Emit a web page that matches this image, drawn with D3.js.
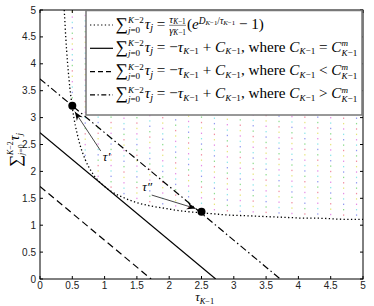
<!DOCTYPE html>
<html>
<head>
<meta charset="utf-8">
<script src="https://cdn.jsdelivr.net/npm/d3@7"></script>
<style>body{margin:0;background:#fff} text{white-space:pre}</style>
</head>
<body>
<svg width="374" height="306"></svg>
<script>
// curve
const curveX = [0.375,0.38,0.4,0.45,0.5,0.6,0.7,0.8,0.9,1.0,1.1,1.3,1.5,1.7,1.9,2.1,2.3,2.5,2.7,2.9,3.1,3.3,3.5,3.7,3.9,4.1,4.3,4.5,4.7,4.9,5.0];
const curveY = [5.0,4.90,4.47,3.70,3.19,2.58,2.22,1.99,1.83,1.72,1.63,1.51,1.42,1.36,1.32,1.28,1.25,1.23,1.21,1.19,1.18,1.17,1.16,1.15,1.14,1.13,1.13,1.12,1.11,1.11,1.11];
// straight lines y = -x + C
const lineC = [2.72, 1.72, 3.72];
const lineDash = ['none', '7,4', '7,3,1.5,3'];
// marked points
const ptX = [0.5, 2.5];
const ptY = [3.22, 1.25];
// arrows and labels
const arrowFrom = [[0.94, 2.38], [1.73, 1.56]];
const arrowTo = [[0.54, 3.11], [2.41, 1.31]];
const arrowLabel = ['τ′', 'τ″'];
const labelAt = [[1.03, 2.2], [1.66, 1.64]];
// feasible region columns
const feasX = [0.5,0.7,0.9,1.1,1.3,1.5,1.7,1.9,2.1,2.3,2.5,2.7,2.9,3.1,3.3,3.5,3.7,3.9,4.1,4.3,4.5,4.7,4.9];
const feasColors = ['#f08ca0','#8cdc8c','#9098f0','#8ce6ea','#e68ce6','#e6e67a'];
const ticks = [0,0.5,1,1.5,2,2.5,3,3.5,4,4.5,5];
const tickLabels = ['0','0.5','1','1.5','2','2.5','3','3.5','4','4.5','5'];

const L = 40, R = 363, T = 10, B = 279;
const svg = d3.select('svg');
const x = d3.scaleLinear().domain([0, 5]).range([L, R]);
const y = d3.scaleLinear().domain([0, 5]).range([B, T]);

svg.append('defs').append('clipPath').attr('id', 'clip')
  .append('rect').attr('x', L).attr('y', T).attr('width', R - L).attr('height', B - T);

svg.select('defs').append('marker')
  .attr('id', 'arr').attr('viewBox', '-10 -5 12 10')
  .attr('markerWidth', 12).attr('markerHeight', 10)
  .attr('markerUnits', 'userSpaceOnUse')
  .attr('refX', 0).attr('refY', 0).attr('orient', 'auto')
  .append('path').attr('d', 'M0,0 L-9,-3.5 L-6,0 L-9,3.5 Z').attr('fill', '#000');

const plot = svg.append('g').attr('clip-path', 'url(#clip)');

// feasible region dots
feasX.forEach((fx, ci) => {
  const lo = curveY[curveX.indexOf(fx)];
  d3.range(lo + 0.08, 5, 0.1).forEach((fy, i) => {
    plot.append('rect')
      .attr('x', x(fx) - 0.6).attr('y', y(fy) - 0.6)
      .attr('width', 1.2).attr('height', 1.4)
      .attr('fill', feasColors[(i + ci * 2) % feasColors.length]);
  });
});

// straight lines
lineC.forEach((c, i) => {
  plot.append('line')
    .attr('x1', x(0)).attr('y1', y(c))
    .attr('x2', x(c)).attr('y2', y(0))
    .attr('stroke', '#000').attr('stroke-width', 1.2)
    .attr('stroke-dasharray', lineDash[i]);
});

// dotted curve
plot.append('path')
  .datum(d3.zip(curveX, curveY))
  .attr('d', d3.line().x(d => x(d[0])).y(d => y(d[1])).curve(d3.curveMonotoneX))
  .attr('fill', 'none').attr('stroke', '#000').attr('stroke-width', 1.3)
  .attr('stroke-dasharray', '1.3,2.4');

// points
plot.selectAll('circle.pt').data(d3.zip(ptX, ptY)).enter()
  .append('circle').attr('class', 'pt')
  .attr('cx', d => x(d[0])).attr('cy', d => y(d[1])).attr('r', 4).attr('fill', '#000');

// axes box + inward ticks
const axes = svg.append('g');
axes.append('rect').attr('x', L).attr('y', T).attr('width', R - L).attr('height', B - T)
  .attr('fill', 'none').attr('stroke', '#000').attr('stroke-width', 1);
ticks.forEach(t => {
  axes.append('line').attr('x1', x(t)).attr('x2', x(t)).attr('y1', B).attr('y2', B - 3).attr('stroke', '#000');
  axes.append('line').attr('x1', x(t)).attr('x2', x(t)).attr('y1', T).attr('y2', T + 3).attr('stroke', '#000');
  axes.append('line').attr('y1', y(t)).attr('y2', y(t)).attr('x1', L).attr('x2', L + 3).attr('stroke', '#000');
  axes.append('line').attr('y1', y(t)).attr('y2', y(t)).attr('x1', R).attr('x2', R - 3).attr('stroke', '#000');
});
const tf = 'Liberation Sans, Arial, sans-serif';
axes.selectAll('text.xt').data(ticks).enter().append('text')
  .attr('x', d => x(d)).attr('y', 288.5).attr('text-anchor', 'middle')
  .attr('font-family', tf).attr('font-size', 10).attr('fill', '#222')
  .text((d, i) => tickLabels[i]);
axes.selectAll('text.yt').data(ticks).enter().append('text')
  .attr('x', 36).attr('y', d => y(d) + 3.5).attr('text-anchor', 'end')
  .attr('font-family', tf).attr('font-size', 10).attr('fill', '#222')
  .text((d, i) => tickLabels[i]);

// arrows
arrowFrom.forEach((a, i) => {
  svg.append('line')
    .attr('x1', x(a[0])).attr('y1', y(a[1]))
    .attr('x2', x(arrowTo[i][0])).attr('y2', y(arrowTo[i][1]))
    .attr('stroke', '#333').attr('stroke-width', 0.9)
    .attr('marker-end', 'url(#arr)');
  svg.append('text')
    .attr('x', x(labelAt[i][0])).attr('y', y(labelAt[i][1]))
    .attr('text-anchor', 'middle')
    .attr('font-family', 'Liberation Serif, serif').attr('font-style', 'italic')
    .attr('font-size', 13).text(arrowLabel[i]);
});

// --- math text helper ---
const SERIF = 'Liberation Serif, DejaVu Serif, serif';
function place(g, runs, fs) {
  let cx = 0;
  runs.forEach(r => {
    if (r.stack || r.frac) {
      const parts = (r.stack || r.frac).map(sub => {
        const sg = g.append('g');
        return { sg, w: place(sg, sub, fs) };
      });
      const W = d3.max(parts, p => p.w);
      parts.forEach(p => {
        const off = r.frac ? (W - p.w) / 2 : 0;
        p.sg.attr('transform', `translate(${cx + off},0)`);
      });
      if (r.frac) {
        g.append('line').attr('x1', cx).attr('x2', cx + W)
          .attr('y1', -3.2).attr('y2', -3.2).attr('stroke', '#000').attr('stroke-width', 0.5);
      }
      cx += W + 1;
    } else {
      const t = g.append('text').attr('x', cx).attr('y', r.dy || 0)
        .attr('font-family', SERIF).attr('font-size', fs * (r.s || 1))
        .attr('font-style', r.it ? 'italic' : 'normal').attr('fill', '#000')
        .text(r.t);
      cx += t.node().getComputedTextLength();
    }
  });
  return cx;
}
const I = (t, s, dy) => ({ t, it: true, s, dy });
const N = (t, s, dy) => ({ t, s, dy });
const SUM = [N('∑', 1.15, 1), { stack: [[I('K', .6, -5.5), N('−2', .6, -5.5)], [I('j', .6, 4), N('=0', .6, 4)]] }];
const TAUJ = [I('τ'), I('j', .68, 2.5)];
const subK = (dy) => [I('K', .6, dy), N('−1', .6, dy)];
const eq = (op) => [...SUM, ...TAUJ, N(' = −'), I('τ'), ...subK(2.5), N(' + '), I('C'), ...subK(2.5),
  N(', where '), I('C'), ...subK(2.5), N(' ' + op + ' '), I('C'),
  { stack: [[I('m', .6, -5.5)], subK(4)] }];
const legendRows = [
  [...SUM, ...TAUJ, N(' = '),
    { frac: [[I('τ', .7, -6), I('K', .48, -4.5), N('−1', .48, -4.5)], [I('γ', .7, 5), I('K', .48, 6.5), N('−1', .48, 6.5)]] },
    N('('), I('e'), I('D', .62, -5), I('K', .45, -3.5), N('−1', .45, -3.5), N('/', .62, -5), I('τ', .62, -5),
    I('K', .45, -3.5), N('−1', .45, -3.5), N(' − 1)')],
  eq('='), eq('<'), eq('>')
];
const legendDash = ['1.3,2.4', 'none', '5,3', '5,2.5,1.3,2.5'];

// legend
const lg = svg.append('g');
lg.append('rect').attr('x', 86).attr('y', 10.5).attr('width', 276).attr('height', 104.5)
  .attr('fill', '#fff').attr('stroke', '#777').attr('stroke-width', 1.5);
// find font size so that row 2 spans ~245px
const probe = lg.append('g');
const w10 = place(probe, legendRows[1], 10);
probe.remove();
const fs = 10 * 244 / w10;
legendRows.forEach((row, i) => {
  const cy = 25 + 23.3 * i;
  lg.append('line').attr('x1', 90).attr('x2', 113).attr('y1', cy).attr('y2', cy)
    .attr('stroke', '#000').attr('stroke-width', 1.2).attr('stroke-dasharray', legendDash[i]);
  const rg = lg.append('g').attr('transform', `translate(115.5,${cy + 3.5})`);
  place(rg, row, fs);
});

// axis labels
const xl = svg.append('g');
const xw = place(xl, [I('τ', 1.05), I('K', .7, 3), N('−1', .7, 3)], 12);
xl.attr('transform', `translate(${x(2.55) - xw / 2},301)`);
const yl = svg.append('g');
const yw = place(yl, [N('∑', 1.3, 2), { stack: [[I('K', .6, -6.5), N('−2', .6, -6.5)], [I('j', .6, 4.5), N('=0', .6, 4.5)]] }, I('τ', 1.05), I('j', .7, 3)], 13);
yl.attr('transform', `translate(19,${150 + yw / 2}) rotate(-90)`);
</script>
</body>
</html>
